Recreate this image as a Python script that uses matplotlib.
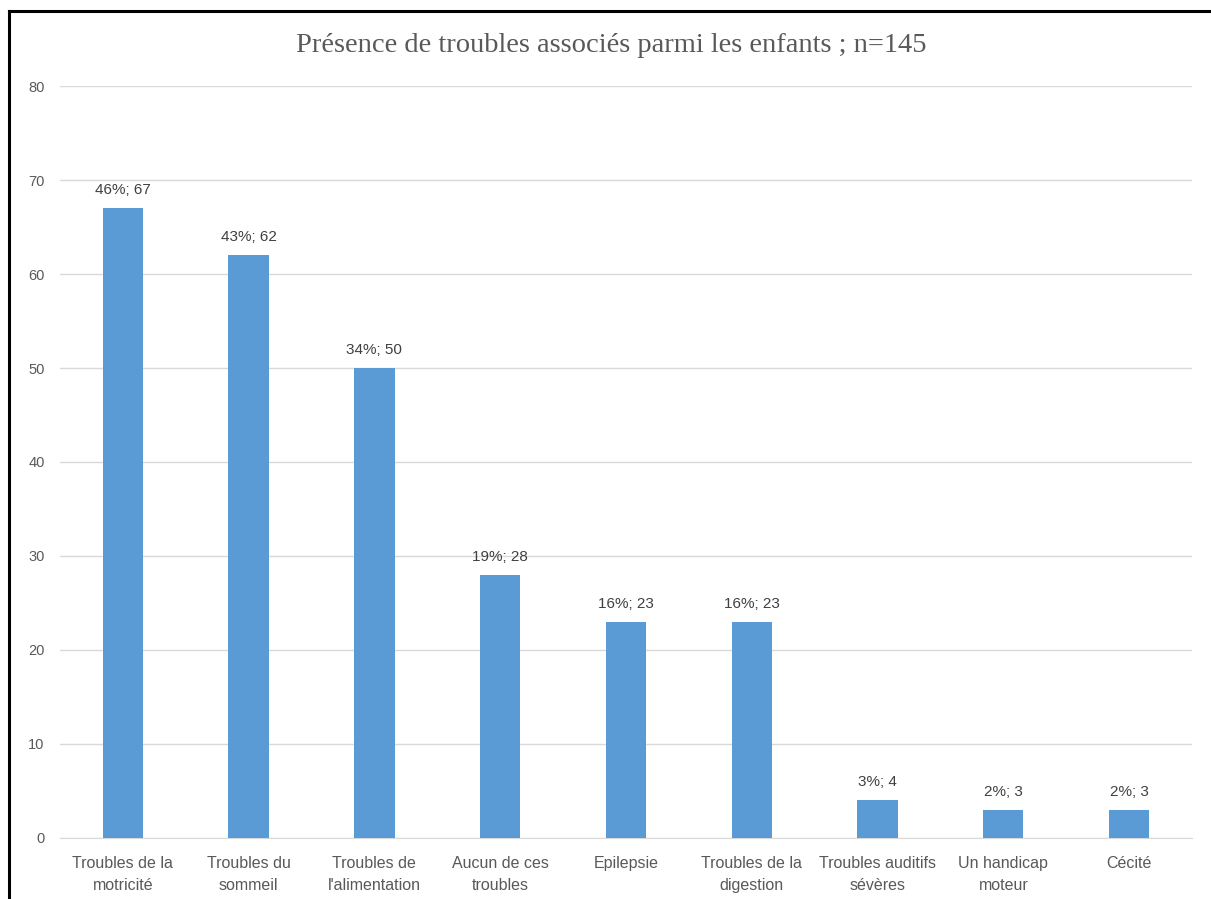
import matplotlib.pyplot as plt
from matplotlib.lines import Line2D

# categories and counts
categories = ["Troubles de la\nmotricité", "Troubles du\nsommeil", "Troubles de\nl'alimentation",
              "Aucun de ces\ntroubles", "Epilepsie", "Troubles de la\ndigestion",
              "Troubles auditifs\nsévères", "Un handicap\nmoteur", "Cécité"]
counts = [67, 62, 50, 28, 23, 23, 4, 3, 3]
percents = [46, 43, 34, 19, 16, 16, 3, 2, 2]
yticks = [0, 10, 20, 30, 40, 50, 60, 70, 80]

grey = '#595959'
fig = plt.figure(figsize=(12.11, 8.99), dpi=100)
ax = fig.add_axes([0.0495, 0.0679, 0.9348, 0.8364])

x = range(len(categories))
ax.bar(x, counts, width=0.32, color='#5b9bd5', zorder=3)
for xi, c, p in zip(x, counts, percents):
    ax.annotate('{}%; {}'.format(p, c), (xi, c), xytext=(0, 8), textcoords='offset points',
                ha='center', va='bottom', fontsize=11, color='#404040', family='Liberation Sans')

ax.set_xlim(-0.5, len(categories) - 0.5)
ax.set_ylim(0, 80)
ax.set_yticks(yticks)
ax.set_xticks(list(x))
ax.set_xticklabels(categories, fontsize=11.5, color=grey, family='Liberation Sans', linespacing=1.55)
ax.tick_params(axis='y', labelsize=10.5, labelcolor=grey, length=0, pad=11)
ax.tick_params(axis='x', length=0, pad=13)
for lbl in ax.get_yticklabels():
    lbl.set_family('Liberation Sans')
ax.grid(axis='y', color='#d9d9d9', linewidth=1, zorder=0)
for s in ['top', 'right', 'left']:
    ax.spines[s].set_visible(False)
ax.spines['bottom'].set_color('#d9d9d9')

fig.text(0.505, 1 - 46 / 899, 'Présence de troubles associés parmi les enfants ; n=145',
         ha='center', va='center', fontsize=20.5, color=grey, family='Liberation Serif')

# frame lines along top and left edge
fig.add_artist(Line2D([9 / 1211, 1], [1 - 11 / 899, 1 - 11 / 899], color='black', lw=2.2,
                      transform=fig.transFigure))
fig.add_artist(Line2D([9 / 1211, 9 / 1211], [0, 1 - 11 / 899], color='black', lw=2.2,
                      transform=fig.transFigure))

fig.savefig('out.png', dpi=100)
